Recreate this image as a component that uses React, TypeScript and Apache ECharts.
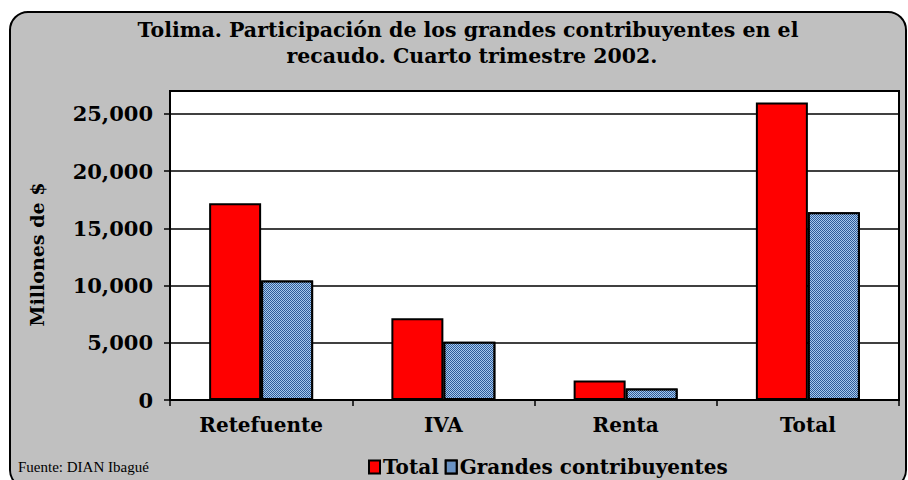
import React, { useEffect, useRef } from "react";
import * as echarts from "echarts";

const categories = ["Retefuente", "IVA", "Renta", "Total"];
const totalValues = [17200, 7150, 1700, 26000];
const grandesValues = [10450, 5080, 1000, 16400];
const yTicks = [0, 5000, 10000, 15000, 20000, 25000];
const seriesNames = ["Total", "Grandes contribuyentes"];
const titleLines = [
  "Tolima. Participación de los grandes contribuyentes en el",
  "recaudo. Cuarto trimestre 2002.",
];
const yAxisName = "Millones de $";
const sourceText = "Fuente: DIAN Ibagué";

const SERIF = "'DejaVu Serif', serif";

export default function App() {
  const ref = useRef<HTMLDivElement>(null);
  useEffect(() => {
    document.body.style.margin = "0";
    const chart = echarts.init(ref.current!, null, { renderer: "svg" });
    const blueDecal = {
      color: "#a6c8ee",
      symbol: "rect",
      symbolSize: 1,
      dashArrayX: [[1, 1], [0, 1, 1, 0]],
      dashArrayY: [1, 0],
      rotation: 0,
    };
    chart.setOption({
      animation: false,
      backgroundColor: "#ffffff",
      graphic: [
        {
          type: "rect",
          z: -10,
          silent: true,
          shape: { x: 10, y: 12, width: 896, height: 476, r: 18 },
          style: { fill: "#c0c0c0", stroke: "#000", lineWidth: 2 },
        },
        {
          type: "text",
          x: 468,
          y: 30,
          style: {
            text: titleLines[0],
            font: "bold 20.5px 'DejaVu Serif', serif",
            fill: "#000",
            align: "center",
            verticalAlign: "middle",
          },
        },
        {
          type: "text",
          x: 472,
          y: 56,
          style: {
            text: titleLines[1],
            font: "bold 20.5px 'DejaVu Serif', serif",
            fill: "#000",
            align: "center",
            verticalAlign: "middle",
          },
        },
        {
          type: "text",
          x: 18,
          y: 467,
          style: {
            text: sourceText,
            font: "15px 'Liberation Serif', serif",
            fill: "#000",
            align: "left",
            verticalAlign: "middle",
          },
        },
      ],
      legend: {
        left: 368,
        top: 456,
        padding: 0,
        itemWidth: 11,
        itemHeight: 13,
        itemGap: 6,
        icon: "rect",
        textStyle: {
          fontFamily: SERIF,
          fontWeight: "bold",
          fontSize: 20,
          lineHeight: 22,
          color: "#000",
          padding: [0, 0, 0, -2],
        },
        data: seriesNames,
      },
      grid: {
        left: 170,
        top: 91,
        right: 9,
        bottom: 80,
        show: true,
        backgroundColor: "#ffffff",
        borderColor: "#000",
        borderWidth: 2,
      },
      xAxis: {
        type: "category",
        data: categories,
        axisLine: { lineStyle: { color: "#000", width: 2 } },
        axisTick: { show: true, length: 6, lineStyle: { color: "#000", width: 1.5 } },
        axisLabel: {
          fontFamily: SERIF,
          fontWeight: "bold",
          fontSize: 20,
          color: "#000",
          margin: 15,
        },
      },
      yAxis: {
        type: "value",
        min: 0,
        max: 27000,
        interval: 5000,
        name: yAxisName,
        nameLocation: "middle",
        nameRotate: 90,
        nameGap: 124,
        nameTextStyle: {
          fontFamily: SERIF,
          fontWeight: "bold",
          fontSize: 19,
          color: "#000",
          padding: [0, 18, 0, 0],
        },
        axisLine: { show: true, lineStyle: { color: "#000", width: 2 } },
        axisTick: {
          show: true,
          length: 6,
          customValues: yTicks,
          lineStyle: { color: "#000", width: 1.5 },
        },
        axisLabel: {
          customValues: yTicks,
          fontFamily: SERIF,
          fontWeight: "bold",
          fontSize: 21,
          color: "#000",
          margin: 17,
          formatter: (v: number) => v.toLocaleString("en-US"),
        },
        splitLine: { show: true, lineStyle: { color: "#000", width: 1.5 } },
      },
      series: [
        {
          name: seriesNames[0],
          type: "bar",
          data: totalValues,
          barWidth: 52,
          barGap: "0%",
          itemStyle: { color: "#ff0000", borderColor: "#000", borderWidth: 2 },
        },
        {
          name: seriesNames[1],
          type: "bar",
          data: grandesValues,
          barWidth: 52,
          itemStyle: {
            color: "#2f5c98",
            borderColor: "#000",
            borderWidth: 2,
            decal: blueDecal,
          },
        },
      ],
    });
    return () => chart.dispose();
  }, []);
  return <div ref={ref} style={{ width: 908, height: 480 }} />;
}
